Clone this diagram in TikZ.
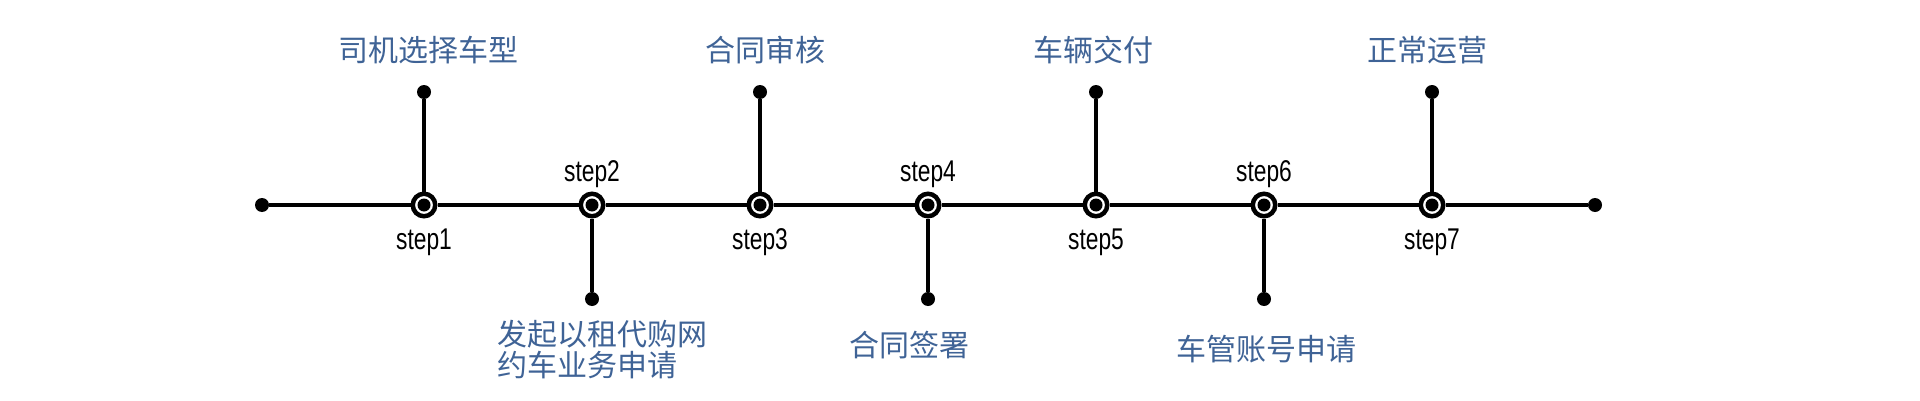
\documentclass[tikz,border=0pt]{standalone}
\usepackage{fontspec}
\usepackage{xcolor}
\usepackage{tikz}
\newfontfamily\cjkfont{Noto Sans CJK SC}
\newfontfamily\stepfont[FakeStretch=0.76]{Liberation Sans}
\definecolor{task blue}{HTML}{3F6396}

\begin{document}
\begin{tikzpicture}[x=1pt, y=1pt, line width=4pt,
    step mark/.style={circle, draw, line width=4.5pt, fill=white, minimum size=22.5pt, inner sep=0pt,
        path picture={\fill[black] (path picture bounding box.center) circle (6.5pt);}},
    end dot/.style={circle, fill, minimum size=14pt, inner sep=0pt, outer sep=0pt},
    task/.style={font=\cjkfont\fontsize{30}{31}\selectfont, text=task blue, inner sep=0pt, anchor=base},
    step name/.style={font=\stepfont\fontsize{30}{32}\selectfont, inner sep=0pt, anchor=base}]
    \useasboundingbox (0,0) rectangle (1920,400);

    % Steps along the time line
    \node[step mark] (step one) at (424,195) {};
    \node[step mark] (step two) at (592,195) {};
    \node[step mark] (step three) at (760,195) {};
    \node[step mark] (step four) at (928,195) {};
    \node[step mark] (step five) at (1096,195) {};
    \node[step mark] (step six) at (1264,195) {};
    \node[step mark] (step seven) at (1432,195) {};
    \node[end dot] (left end) at (262,195) {};
    \node[end dot] (right end) at (1595,195) {};

    % Ends of the stubs
    \node[end dot] (tip one) at (424,308) {};
    \node[end dot] (tip two) at (592,101) {};
    \node[end dot] (tip three) at (760,308) {};
    \node[end dot] (tip four) at (928,101) {};
    \node[end dot] (tip five) at (1096,308) {};
    \node[end dot] (tip six) at (1264,101) {};
    \node[end dot] (tip seven) at (1432,308) {};

    % Time line
    \draw (left end) -- (step one);
    \draw (step one) -- (step two);
    \draw (step two) -- (step three);
    \draw (step three) -- (step four);
    \draw (step four) -- (step five);
    \draw (step five) -- (step six);
    \draw (step six) -- (step seven);
    \draw (step seven) -- (right end);

    % Stubs
    \draw (step one) -- (tip one);
    \draw (step two) -- (tip two);
    \draw (step three) -- (tip three);
    \draw (step four) -- (tip four);
    \draw (step five) -- (tip five);
    \draw (step six) -- (tip six);
    \draw (step seven) -- (tip seven);

    % Step names
    \node[step name] (name one) at (424,151) {step1};
    \node[step name] (name two) at (592,219) {step2};
    \node[step name] (name three) at (760,151) {step3};
    \node[step name] (name four) at (928,219) {step4};
    \node[step name] (name five) at (1096,151) {step5};
    \node[step name] (name six) at (1264,219) {step6};
    \node[step name] (name seven) at (1432,151) {step7};

    % Tasks
    \node[task] (task one) at (428,338) {司机选择车型};
    \node[task, anchor=base west, align=left] (task two) at (495,24) {发起以租代购网\\约车业务申请};
    \node[task] (task three) at (765,338) {合同审核};
    \node[task] (task four) at (909,44) {合同签署};
    \node[task] (task five) at (1093,338) {车辆交付};
    \node[task] (task six) at (1266,40) {车管账号申请};
    \node[task] (task seven) at (1427,338) {正常运营};
\end{tikzpicture}
\end{document}
